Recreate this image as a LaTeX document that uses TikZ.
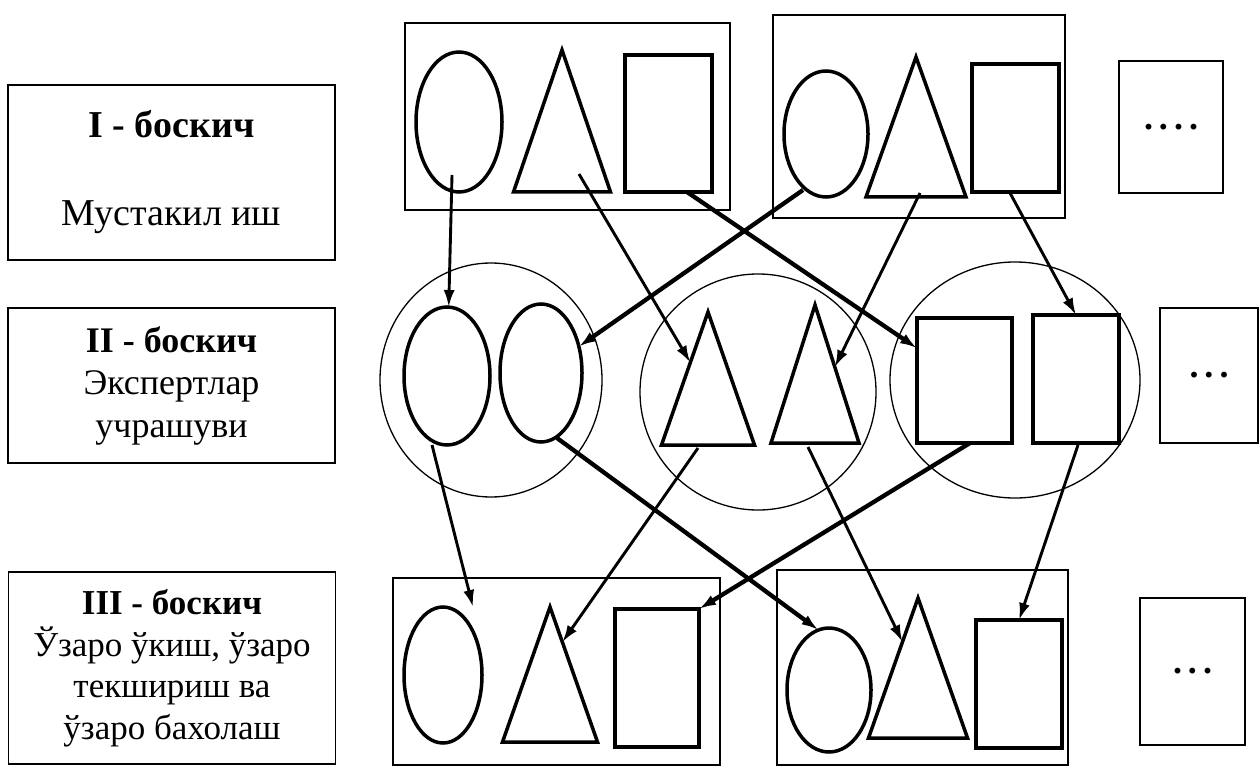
\documentclass[tikz,border=0pt]{standalone}
\usepackage{fontspec}
\setmainfont{Liberation Serif}
\usetikzlibrary{calc}
\usetikzlibrary{shapes.geometric}
\usetikzlibrary{arrows.meta}

\begin{document}
\begin{tikzpicture}[x=1pt, y=-1pt,
	every node/.style={inner sep=0pt, outer sep=0pt},
	oval/.style={draw, ellipse, line width=3.5pt},
	tri/.style={draw, isosceles triangle, isosceles triangle stretches, shape border rotate=90, anchor=apex, line width=3.5pt},
	sq/.style={draw, rectangle, line width=3.5pt},
	grp/.style={draw, rectangle, line width=1.8pt},
	ring/.style={draw, ellipse, line width=1.3pt},
	lbl/.style={draw, rectangle, line width=1.8pt, minimum width=327pt, align=center},
	dotbox/.style={draw, rectangle, line width=1.8pt, font=\fontsize{36}{40}\selectfont\bfseries},
	arr/.style={-{Latex[length=17pt,width=11pt]}, line width=2.9pt},
	arrthick/.style={arr, line width=4.3pt}]
				\useasboundingbox (0,0) rectangle (1260,767);
				
				% Stage labels
				\node[lbl, minimum height=175pt, font=\fontsize{38}{44}\selectfont] (lbl1) at (171.5,172.5) {\textbf{I - боскич}\\[44pt]Мустакил иш};
				\node[lbl, minimum height=155pt, font=\fontsize{36}{42.5}\selectfont] (lbl2) at (171.5,385.5) {\textbf{II - боскич}\\Экспертлар\\учрашуви};
				\node[lbl, minimum height=192pt, font=\fontsize{35}{41.5}\selectfont] (lbl3) at (172,668) {\textbf{III - боскич}\\Ўзаро ўкиш, ўзаро\\текшириш ва\\ўзаро бахолаш};
				
				% Stage I: home groups
				\node[grp, minimum width=325pt, minimum height=187pt] (grpA) at (567.5,116.5) {};
				\node[grp, minimum width=292pt, minimum height=203pt] (grpB) at (919,116.5) {};
				\node[oval, minimum width=86pt, minimum height=140pt] (eT1) at (459,122) {};
				\node[tri, minimum width=97pt, minimum height=142pt] (tT1) at (562,50) {};
				\node[sq, minimum width=87pt, minimum height=137pt] (sqT1) at (668.5,123.5) {};
				\node[oval, minimum width=84pt, minimum height=126pt] (eT2) at (826,134) {};
				\node[tri, minimum width=100pt, minimum height=140pt] (tT2) at (916,57) {};
				\node[sq, minimum width=87pt, minimum height=128pt] (sqT2) at (1015.5,128) {};
				\node[dotbox, minimum width=104pt, minimum height=132pt] (dotsT) at (1171,127) {.\,.\,.\,.};
				
				% Stage II: expert groups
				\node[ring, minimum width=222pt, minimum height=234pt] (ring1) at (491,380) {};
				\node[ring, minimum width=236pt, minimum height=236pt] (ring2) at (758,392) {};
				\node[ring, minimum width=250pt, minimum height=236pt] (ring3) at (1015,380) {};
				\node[oval, minimum width=86pt, minimum height=138pt] (eA) at (447,376) {};
				\node[oval, minimum width=82pt, minimum height=138pt] (eB) at (541,373) {};
				\node[tri, minimum width=93pt, minimum height=133pt] (tA) at (708,312) {};
				\node[tri, minimum width=88pt, minimum height=138pt] (tB) at (815,305) {};
				\node[sq, minimum width=95pt, minimum height=125pt] (sqA) at (964.5,380.5) {};
				\node[sq, minimum width=86pt, minimum height=128pt] (sqB) at (1076,379) {};
				\node[dotbox, minimum width=98pt, minimum height=135pt] (dotsM) at (1209,375.5) {.\,.\,.};
				
				% Stage III: home groups again
				\node[grp, minimum width=327pt, minimum height=187pt] (grpC) at (556.5,671.5) {};
				\node[grp, minimum width=291pt, minimum height=195pt] (grpD) at (922.5,667.5) {};
				\node[oval, minimum width=78pt, minimum height=136pt] (eC) at (443,675) {};
				\node[tri, minimum width=95pt, minimum height=135pt] (tC) at (550,607) {};
				\node[sq, minimum width=84pt, minimum height=138pt] (sqC) at (657,678) {};
				\node[oval, minimum width=84pt, minimum height=124pt] (eD) at (829,690) {};
				\node[tri, minimum width=99pt, minimum height=140pt] (tD) at (918,598) {};
				\node[sq, minimum width=86pt, minimum height=128pt] (sqD) at (1019,684) {};
				\node[dotbox, minimum width=105pt, minimum height=147pt] (dotsB) at (1192.5,671.5) {.\,.\,.};
				
				% Arrow starts inside the shapes, and free ends
				\coordinate (s1) at (452,175);
				\coordinate (s2) at (579,174);
				\coordinate (s3) at (687,192);
				\coordinate (s4) at (803,190);
				\coordinate (s5) at (920,193);
				\coordinate (s6) at (1010,193);
				\coordinate (s7) at (432,445);
				\coordinate (s8) at (557,438);
				\coordinate (s9) at (698,448);
				\coordinate (s10) at (808,447);
				\coordinate (s11) at (970,443);
				\coordinate (s12) at (1078,445);
				\coordinate (e7) at ($(eC.north)+(30,0)$);
				
				% Stage I -> Stage II
				\draw[arr] (s1) -- (eA);
				\draw[arr] (s2) -- ($(tA.apex)!0.38!(tA.left corner)$);
				\draw[arrthick] (s3) -- (sqA);
				\draw[arrthick] (s4) -- (eB);
				\draw[arr] (s5) -- ($(tB.apex)!0.45!(tB.right corner)$);
				\draw[arr] (s6) -- (sqB.north);
				
				% Stage II -> Stage III
				\draw[arr] (s7) -- (e7);
				\draw[arrthick] (s8) -- (eD.100);
				\draw[arr] (s9) -- ($(tC.apex)!0.26!(tC.right corner)$);
				\draw[arr] (s10) -- ($(tD.apex)!0.314!(tD.left corner)$);
				\draw[arrthick] (s11) -- (sqC.north east);
				\draw[arr] (s12) -- (sqD.north);
			\end{tikzpicture}
\end{document}
